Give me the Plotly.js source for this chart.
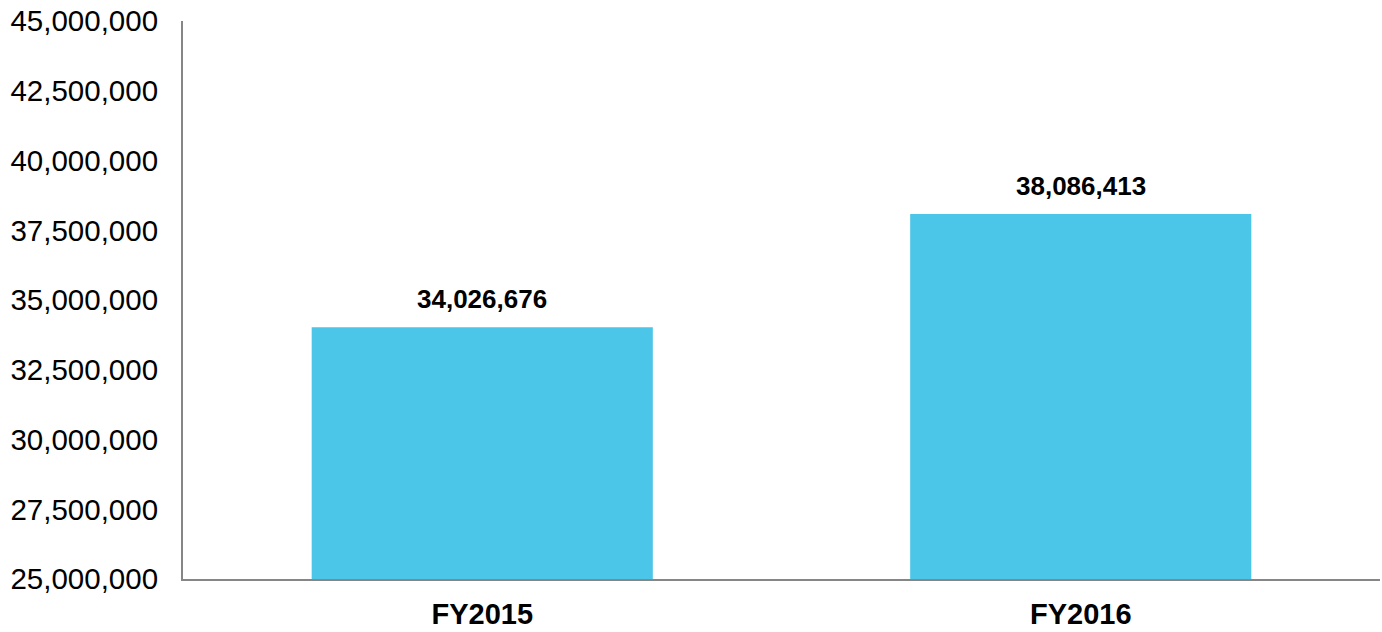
<!DOCTYPE html>
<html>
<head>
<meta charset="utf-8">
<script src="https://cdn.plot.ly/plotly-3.0.1.min.js"></script>
<style>
html,body{margin:0;padding:0;background:#fff;}
#chart{width:1382px;height:632px;}
</style>
</head>
<body>
<div id="chart"></div>
<script>
const categories = ["FY2015", "FY2016"];
const values = [34026676, 38086413];
const valueLabels = ["34,026,676", "38,086,413"];

const trace = {
  type: "bar",
  x: categories,
  y: values,
  marker: {color: "#4BC6E8"},
  hoverinfo: "none"
};

const annotations = categories.map((c, i) => ({
  x: c, y: values[i], xref: "x", yref: "y",
  text: "<b>" + valueLabels[i] + "</b>",
  showarrow: false, yanchor: "bottom", yshift: 11,
  font: {family: "Liberation Sans, Arial, sans-serif", size: 26, color: "#000"}
}));

const layout = {
  width: 1382, height: 632,
  margin: {l: 183, r: 2, t: 21, b: 53},
  paper_bgcolor: "#fff", plot_bgcolor: "#fff",
  showlegend: false,
  bargap: 0.43,
  font: {family: "Liberation Sans, Arial, sans-serif", color: "#000"},
  xaxis: {
    type: "category",
    range: [-0.5, 1.5],
    showline: true, linecolor: "#868686", linewidth: 2,
    showgrid: false, zeroline: false, ticks: "",
    tickfont: {size: 29, color: "#000", weight: "bold"},
    ticklabelstandoff: 8
  },
  yaxis: {
    range: [25000000, 45000000],
    dtick: 2500000, tick0: 25000000,
    tickformat: ",d",
    showline: true, linecolor: "#868686", linewidth: 2,
    showgrid: false, zeroline: false, ticks: "",
    tickfont: {size: 29.5, color: "#000"},
    ticklabelstandoff: 17
  },
  annotations: annotations
};

Plotly.newPlot("chart", [trace], layout, {displayModeBar: false, staticPlot: true});
</script>
</body>
</html>
